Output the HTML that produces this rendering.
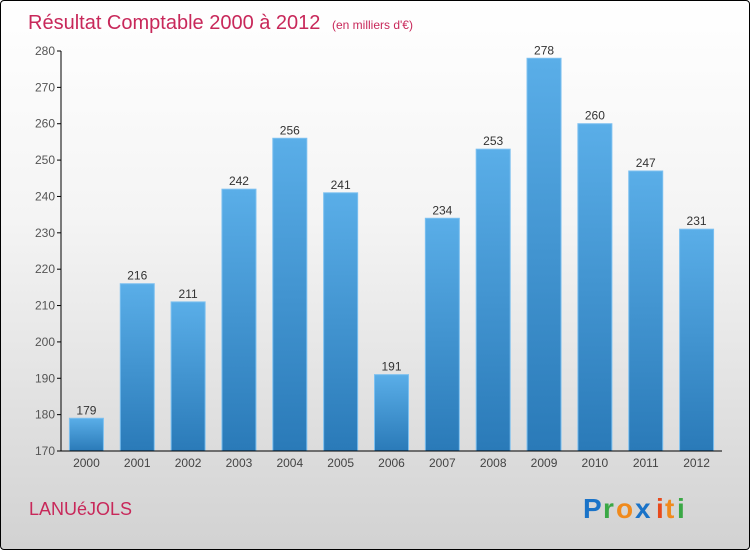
<!DOCTYPE html>
<html><head><meta charset="utf-8"><style>
html,body{margin:0;padding:0}
body{width:750px;height:550px;overflow:hidden}
#wrap{position:absolute;left:0;top:0;width:748px;height:548px;border:1px solid #000;border-radius:4px;background:linear-gradient(#ffffff 0%,#f4f4f4 40%,#d2d2d2 100%);font-family:"Liberation Sans",sans-serif}
</style></head><body>
<div id="wrap">
<svg width="750" height="550" style="position:absolute;left:0;top:0">
<defs><linearGradient id="bg" x1="0" y1="0" x2="0" y2="1"><stop offset="0" stop-color="#5aaee8"/><stop offset="1" stop-color="#2a7ab8"/></linearGradient></defs>
<text x="27" y="28" font-size="20" fill="#c8285a">Résultat Comptable 2000 à 2012 <tspan font-size="12" dx="6">(en milliers d'€)</tspan></text>
<g id="plot"></g>
<text x="28" y="514" font-size="18" fill="#c8285a">LANUéJOLS</text>
<g font-size="28" font-weight="bold">
<text x="582" y="517" fill="#1a73c8">P</text><text x="602" y="517" fill="#3aa845">r</text><text x="615" y="517" fill="#f08a1c">o</text><text x="634" y="517" fill="#1a73c8">x</text><text x="655" y="517" fill="#e84a1c">i</text><text x="664" y="517" fill="#f08a1c">t</text><text x="676" y="517" fill="#3aa845">i</text>
</g>
</svg>
</div>
<script>
const categories=["2000","2001","2002","2003","2004","2005","2006","2007","2008","2009","2010","2011","2012"];
const values=[179,216,211,242,256,241,191,234,253,278,260,247,231];
const yTicks=[170,180,190,200,210,220,230,240,250,260,270,280];
const yMin=170,yMax=280,pTop=50,pBottom=450,pLeft=60,pRight=721;
const ns="http://www.w3.org/2000/svg";
const g=document.getElementById('plot');
function y(v){return pBottom-(v-yMin)/(yMax-yMin)*(pBottom-pTop);}
const band=(pRight-pLeft)/categories.length;
function x(i){return pLeft+band*(i+0.5);}
function mk(t,a){const e=document.createElementNS(ns,t);for(const k in a)e.setAttribute(k,a[k]);g.appendChild(e);return e;}
yTicks.forEach(t=>{
 const l=mk('line',{x1:pLeft-4,x2:pLeft,y1:y(t),y2:y(t),stroke:'#000'});
 
 
 const tx=mk('text',{x:pLeft-6,y:y(t)+4,'text-anchor':'end','font-size':12,fill:'#555'});
 tx.textContent=t;
 
 
});
values.forEach((v,i)=>{
 const w=34;
 const r=mk('rect',{x:x(i)-w/2,y:y(v),width:w,height:pBottom-y(v),fill:'url(#bg)',stroke:'#7cc0f0','stroke-width':1});
 
 
 const vt=mk('text',{x:x(i),y:y(v)-4,'text-anchor':'middle','font-size':12,fill:'#333'});
 vt.textContent=v;
 
 
 const ct=mk('text',{x:x(i),y:pBottom+16,'text-anchor':'middle','font-size':12,fill:'#444'});
 ct.textContent=categories[i];
 
 
});
const ya=mk('line',{x1:pLeft,x2:pLeft,y1:pTop,y2:pBottom,stroke:'#000'});


const xa=mk('line',{x1:pLeft,x2:pRight,y1:pBottom,y2:pBottom,stroke:'#000'});


</script>
</body></html>
